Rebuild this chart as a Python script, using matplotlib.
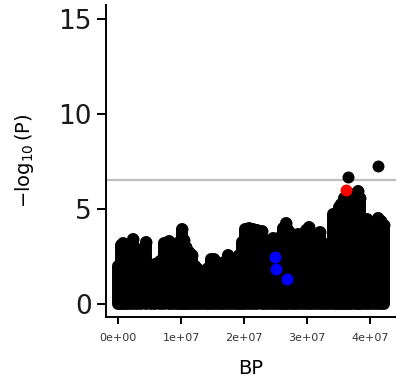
import numpy as np
import matplotlib
matplotlib.use("Agg")
import matplotlib.pyplot as plt

plt.rcParams['font.family'] = ['DejaVu Sans']
plt.rcParams['mathtext.fontset'] = 'dejavusans'

# SNP positions (x 1e7 bp) and -log10(P) along the chromosome;
# each one sits on top of the dense cloud of weaker SNPs beneath it
snp_bp = [0.00, 0.05, 0.08, 0.12, 0.18, 0.24, 0.30, 0.36, 0.45, 0.52,
          0.59, 0.66, 0.72, 0.80, 0.86, 0.92, 0.97, 1.01, 1.04, 1.08,
          1.12, 1.17, 1.22, 1.27, 1.32, 1.37, 1.42, 1.47, 1.52, 1.58,
          1.63, 1.68, 1.74, 1.80, 1.87, 1.92, 1.96, 2.01, 2.07, 2.14,
          2.20, 2.28, 2.33, 2.40, 2.46, 2.52, 2.58, 2.62, 2.66, 2.70,
          2.75, 2.80, 2.86, 2.92, 2.98, 3.03, 3.08, 3.14, 3.20, 3.25,
          3.30, 3.35, 3.40, 3.45, 3.50, 3.54, 3.58, 3.62, 3.66, 3.70,
          3.76, 3.80, 3.84, 3.88, 3.94, 3.99, 4.05, 4.12, 4.17, 4.22]
snp_logp = [2.0, 3.1, 3.2, 2.6, 3.0, 3.45, 2.9, 2.0, 3.27, 2.0,
            2.1, 2.3, 3.2, 3.35, 3.0, 2.6, 3.3, 3.97, 3.4, 3.0,
            2.75, 2.6, 2.0, 1.87, 1.5, 1.45, 1.9, 2.4, 2.4, 2.1,
            2.05, 2.2, 2.6, 2.2, 2.05, 2.6, 3.3, 3.95, 4.0, 3.95,
            3.9, 3.85, 3.4, 3.3, 3.5, 3.4, 3.6, 4.0, 4.3, 3.9,
            3.7, 3.5, 3.7, 3.5, 3.9, 4.05, 3.6, 3.5, 3.8, 3.2,
            2.4, 3.0, 4.75, 4.8, 5.1, 5.28, 5.6, 5.7, 5.3, 5.5,
            5.8, 5.95, 5.6, 4.5, 4.5, 4.3, 3.6, 4.55, 4.4, 4.15]

# isolated top hits
top_bp = [3.65, 4.12]
top_logp = [6.68, 7.27]

# highlighted SNPs
blue_bp = [2.48, 2.51, 2.67]
blue_logp = [2.47, 1.84, 1.32]
red_bp = [3.61]
red_logp = [6.0]

threshold = 6.55

x_ticks = [0, 1, 2, 3, 4]
x_labels = ["0e+00", "1e+07", "2e+07", "3e+07", "4e+07"]
y_ticks = [0, 5, 10, 15]

fig = plt.figure(figsize=(3.96, 3.77), dpi=100)
ax = fig.add_axes([0.268, 0.16, 0.732, 0.827])

dot_pt = 8.6
bp = np.array(snp_bp)
lp = np.array(snp_logp)
ax.vlines(bp, 0, lp, colors="black", linewidth=dot_pt, capstyle="round", zorder=2)
ax.scatter(bp, lp, s=dot_pt ** 2, color="black", linewidths=0, zorder=3)
ax.scatter(top_bp, top_logp, s=dot_pt ** 2, color="black", linewidths=0, zorder=3)
ax.axhline(threshold, color="#BEBEBE", linewidth=1.6, zorder=1)
ax.scatter(blue_bp, blue_logp, s=dot_pt ** 2, color="#0000FF", linewidths=0, zorder=4)
ax.scatter(red_bp, red_logp, s=dot_pt ** 2, color="#FF0000", linewidths=0, zorder=4)

ax.set_xlim(-0.19, 4.406)
ax.set_ylim(-0.65, 15.75)
ax.set_xticks(x_ticks)
ax.set_xticklabels(x_labels, fontsize=8, color="#333333")
ax.set_yticks(y_ticks)
ax.set_yticklabels([str(t) for t in y_ticks], fontsize=19, color="#1a1a1a")
ax.tick_params(axis="both", width=1.4, color="black")
ax.tick_params(axis="y", length=6.5, pad=4)
ax.tick_params(axis="x", length=5, pad=6.5)

for side in ["top", "right"]:
    ax.spines[side].set_visible(False)
for side in ["left", "bottom"]:
    ax.spines[side].set_linewidth(1.4)

ax.set_xlabel("BP", fontsize=14, labelpad=12)
ax.set_ylabel(r"$-\log_{10}\left(\mathrm{P}\right)$", fontsize=14, labelpad=16)

fig.savefig("out.png", dpi=100)
